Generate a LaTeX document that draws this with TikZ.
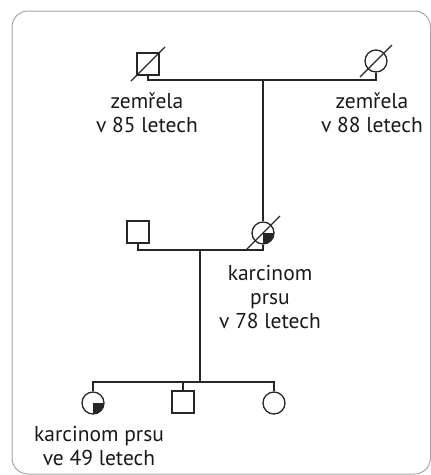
\documentclass[tikz,border=0pt]{standalone}
\usepackage{fontspec}
\setmainfont{PT Sans}
\begin{document}
\begin{tikzpicture}[x=1pt,y=-1pt,
  ln/.style={line width=1.3pt, draw=black!85},
  male/.style={ln, rectangle, minimum size=22pt, inner sep=0pt},
  female/.style={ln, circle, minimum size=22pt, inner sep=0pt},
  lbl/.style={align=center, font=\fontsize{21.5}{24}\selectfont, text=black!90, inner sep=0pt}]
\useasboundingbox (0,0) rectangle (431,475);
\draw[draw=black!35, line width=1pt, rounded corners=16pt] (12,11) rectangle (430.5,474);
% generation I
\node[male] (gf) at (148,64) {};
\node[female] (gm) at (376,61) {};
\coordinate (gfj) at (148,80);
\coordinate (gmj) at (376,80);
\coordinate (gmid) at (263,80);
\draw[ln] (gf.south) -- (gfj) -- (gmj) -- (gm.south);
\draw[ln] ([shift={(-17,17)}]gf.center) -- ([shift={(17,-17)}]gf.center);
\draw[ln] ([shift={(-16,16)}]gm.center) -- ([shift={(16,-16)}]gm.center);
% generation II
\node[male] (fa) at (138,232) {};
\node[female] (mo) at (263,233) {};
\begin{scope}
\clip (mo.center) rectangle ++(14,14);
\fill[black!85] (mo.center) circle (11pt);
\end{scope}
\draw[ln] (gmid) -- (mo.north);
\coordinate (faj) at (138,250);
\coordinate (moj) at (263,250);
\coordinate (cj) at (200,250);
\draw[ln] (fa.south) -- (faj) -- (moj) -- (mo.south);
\draw[ln] ([shift={(-17,17)}]mo.center) -- ([shift={(17,-17)}]mo.center);
% generation III
\node[female] (d1) at (93,403) {};
\node[male] (s2) at (183,402) {};
\node[female] (d3) at (274,403) {};
\begin{scope}
\clip (d1.center) rectangle ++(14,14);
\fill[black!85] (d1.center) circle (11pt);
\end{scope}
\coordinate (sj) at (200,382);
\coordinate (s1j) at (93,382);
\coordinate (s2j) at (183,382);
\coordinate (s3j) at (274,382);
\draw[ln] (cj) -- (sj);
\draw[ln] (d1.north) -- (s1j) -- (s3j) -- (d3.north);
\draw[ln] (s2j) -- (s2.north);
% labels
\node[lbl] (t1) at (147,113) {zemřela\\v 85 letech};
\node[lbl] (t2) at (372,113) {zemřela\\v 88 letech};
\node[lbl] (t3) at (270,297) {karcinom\\prsu\\v 78 letech};
\node[lbl] (t4) at (99,446) {karcinom prsu\\ve 49 letech};
\end{tikzpicture}
\end{document}
